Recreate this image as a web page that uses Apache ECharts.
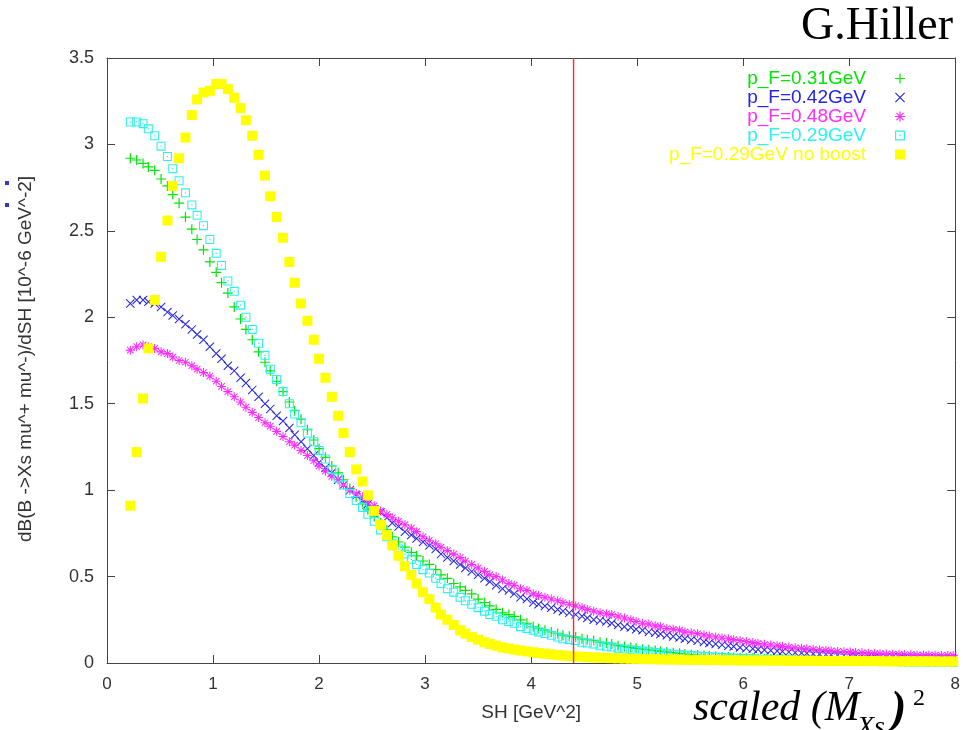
<!DOCTYPE html>
<html>
<head>
<meta charset="utf-8">
<title>dB/dSH</title>
<script src="https://cdn.jsdelivr.net/npm/echarts@6/dist/echarts.min.js"></script>
<style>
  html, body { margin: 0; padding: 0; background: #fff; }
  #chart { width: 963px; height: 730px; }
</style>
</head>
<body>
<div id="chart"></div>
<script>
// SH [GeV^2] sampling points (same for all curves)
const shValues = [
  0.22, 0.28, 0.34, 0.39, 0.45, 0.51, 0.57, 0.62,
  0.68, 0.74, 0.80, 0.85, 0.91, 0.97, 1.03, 1.08,
  1.14, 1.20, 1.26, 1.31, 1.37, 1.43, 1.49, 1.54,
  1.60, 1.66, 1.72, 1.77, 1.83, 1.89, 1.95, 2.00,
  2.06, 2.12, 2.18, 2.23, 2.29, 2.35, 2.41, 2.46,
  2.52, 2.58, 2.64, 2.69, 2.75, 2.81, 2.87, 2.92,
  2.98, 3.04, 3.10, 3.15, 3.21, 3.27, 3.33, 3.38,
  3.44, 3.50, 3.56, 3.61, 3.67, 3.73, 3.79, 3.84,
  3.90, 3.96, 4.02, 4.07, 4.13, 4.19, 4.25, 4.30,
  4.36, 4.42, 4.48, 4.53, 4.59, 4.65, 4.71, 4.76,
  4.82, 4.88, 4.94, 4.99, 5.05, 5.11, 5.17, 5.22,
  5.28, 5.34, 5.40, 5.45, 5.51, 5.57, 5.63, 5.68,
  5.74, 5.80, 5.86, 5.91, 5.97, 6.03, 6.09, 6.14,
  6.20, 6.26, 6.32, 6.37, 6.43, 6.49, 6.55, 6.60,
  6.66, 6.72, 6.78, 6.83, 6.89, 6.95, 7.01, 7.06,
  7.12, 7.18, 7.24, 7.29, 7.35, 7.41, 7.47, 7.52,
  7.58, 7.64, 7.70, 7.75, 7.81, 7.87, 7.93, 7.98
];

// p_F=0.31GeV (green +)
const pf031 = [
  2.92, 2.91, 2.89, 2.87, 2.85, 2.80, 2.76, 2.71,
  2.66, 2.58, 2.51, 2.45, 2.39, 2.32, 2.26, 2.20,
  2.14, 2.06, 1.99, 1.93, 1.87, 1.80, 1.74, 1.69,
  1.63, 1.57, 1.51, 1.46, 1.41, 1.35, 1.29, 1.24,
  1.19, 1.14, 1.10, 1.06, 1.01, 0.96, 0.92, 0.89,
  0.85, 0.81, 0.77, 0.73, 0.70, 0.67, 0.64, 0.62,
  0.59, 0.57, 0.54, 0.51, 0.49, 0.46, 0.44, 0.42,
  0.40, 0.37, 0.35, 0.33, 0.31, 0.29, 0.28, 0.27,
  0.25, 0.23, 0.21, 0.20, 0.19, 0.18, 0.17, 0.16,
  0.155, 0.15, 0.14, 0.135, 0.13, 0.12, 0.115, 0.11,
  0.10, 0.095, 0.09, 0.085, 0.08, 0.076, 0.072, 0.068,
  0.064, 0.06, 0.056, 0.052, 0.049, 0.046, 0.043, 0.041,
  0.038, 0.036, 0.034, 0.032, 0.030, 0.028, 0.027, 0.025,
  0.024, 0.023, 0.022, 0.021, 0.020, 0.019, 0.018, 0.017,
  0.016, 0.016, 0.015, 0.014, 0.014, 0.013, 0.013, 0.012,
  0.012, 0.011, 0.011, 0.010, 0.010, 0.010, 0.009, 0.009,
  0.009, 0.008, 0.008, 0.008, 0.007, 0.007, 0.007, 0.007
];

// p_F=0.42GeV (blue x)
const pf042 = [
  2.08, 2.10, 2.10, 2.09, 2.08, 2.06, 2.03, 2.01,
  1.99, 1.96, 1.93, 1.90, 1.87, 1.83, 1.79, 1.76,
  1.72, 1.69, 1.65, 1.62, 1.58, 1.54, 1.50, 1.47,
  1.43, 1.40, 1.36, 1.32, 1.28, 1.24, 1.20, 1.16,
  1.13, 1.10, 1.06, 1.03, 1.00, 0.97, 0.94, 0.92,
  0.89, 0.87, 0.84, 0.81, 0.79, 0.76, 0.74, 0.72,
  0.70, 0.68, 0.66, 0.63, 0.61, 0.59, 0.57, 0.55,
  0.53, 0.51, 0.49, 0.47, 0.45, 0.43, 0.42, 0.40,
  0.38, 0.37, 0.35, 0.34, 0.33, 0.32, 0.31, 0.30,
  0.29, 0.28, 0.27, 0.26, 0.25, 0.245, 0.24, 0.23,
  0.22, 0.21, 0.205, 0.195, 0.19, 0.18, 0.175, 0.168,
  0.16, 0.153, 0.147, 0.14, 0.134, 0.128, 0.122, 0.116,
  0.11, 0.105, 0.10, 0.095, 0.09, 0.086, 0.082, 0.078,
  0.075, 0.072, 0.069, 0.066, 0.063, 0.06, 0.058, 0.056,
  0.054, 0.052, 0.05, 0.048, 0.046, 0.044, 0.043, 0.041,
  0.040, 0.038, 0.037, 0.036, 0.035, 0.034, 0.033, 0.032,
  0.031, 0.030, 0.029, 0.028, 0.027, 0.026, 0.025, 0.024
];

// p_F=0.48GeV (magenta *)
const pf048 = [
  1.81, 1.83, 1.84, 1.83, 1.82, 1.80, 1.79, 1.77,
  1.75, 1.74, 1.72, 1.70, 1.68, 1.66, 1.63, 1.60,
  1.57, 1.54, 1.51, 1.48, 1.45, 1.42, 1.39, 1.37,
  1.34, 1.31, 1.28, 1.26, 1.23, 1.20, 1.17, 1.14,
  1.11, 1.08, 1.06, 1.03, 1.00, 0.98, 0.96, 0.93,
  0.91, 0.88, 0.86, 0.84, 0.82, 0.80, 0.78, 0.76,
  0.73, 0.71, 0.69, 0.67, 0.65, 0.63, 0.61, 0.59,
  0.57, 0.55, 0.53, 0.51, 0.50, 0.48, 0.46, 0.45,
  0.43, 0.42, 0.40, 0.39, 0.38, 0.37, 0.36, 0.35,
  0.34, 0.33, 0.32, 0.31, 0.30, 0.29, 0.285, 0.28,
  0.27, 0.26, 0.25, 0.24, 0.23, 0.225, 0.215, 0.21,
  0.20, 0.195, 0.19, 0.18, 0.175, 0.17, 0.162, 0.156,
  0.15, 0.145, 0.14, 0.135, 0.13, 0.124, 0.118, 0.113,
  0.108, 0.104, 0.10, 0.096, 0.092, 0.088, 0.085, 0.082,
  0.079, 0.076, 0.073, 0.07, 0.067, 0.065, 0.063, 0.061,
  0.059, 0.057, 0.055, 0.054, 0.052, 0.051, 0.05, 0.049,
  0.048, 0.047, 0.046, 0.045, 0.045, 0.044, 0.044, 0.043
];

// p_F=0.29GeV (cyan boxes)
const pf029 = [
  3.13, 3.13, 3.12, 3.09, 3.05, 2.99, 2.93, 2.86,
  2.79, 2.72, 2.65, 2.59, 2.53, 2.45, 2.37, 2.30,
  2.21, 2.15, 2.07, 2.00, 1.93, 1.85, 1.78, 1.70,
  1.64, 1.57, 1.50, 1.44, 1.39, 1.33, 1.28, 1.23,
  1.18, 1.12, 1.07, 1.03, 0.98, 0.94, 0.90, 0.86,
  0.82, 0.77, 0.73, 0.69, 0.66, 0.63, 0.60, 0.57,
  0.54, 0.52, 0.49, 0.46, 0.43, 0.41, 0.38, 0.36,
  0.34, 0.32, 0.30, 0.28, 0.27, 0.25, 0.24, 0.23,
  0.21, 0.20, 0.19, 0.18, 0.17, 0.16, 0.15, 0.14,
  0.135, 0.13, 0.12, 0.115, 0.11, 0.10, 0.097, 0.092,
  0.086, 0.081, 0.077, 0.073, 0.069, 0.065, 0.061, 0.058,
  0.054, 0.051, 0.048, 0.045, 0.043, 0.040, 0.038, 0.036,
  0.034, 0.032, 0.030, 0.028, 0.027, 0.025, 0.024, 0.022,
  0.021, 0.020, 0.019, 0.018, 0.017, 0.016, 0.015, 0.015,
  0.014, 0.013, 0.013, 0.012, 0.012, 0.011, 0.011, 0.010,
  0.010, 0.009, 0.009, 0.009, 0.008, 0.008, 0.008, 0.007,
  0.007, 0.007, 0.007, 0.006, 0.006, 0.006, 0.006, 0.005
];

// p_F=0.29GeV no boost (yellow filled squares)
const pf029NoBoost = [
  0.91, 1.22, 1.53, 1.82, 2.10, 2.35, 2.56, 2.76,
  2.92, 3.04, 3.17, 3.26, 3.30, 3.31, 3.35, 3.35,
  3.32, 3.27, 3.21, 3.14, 3.05, 2.94, 2.82, 2.70,
  2.58, 2.46, 2.32, 2.20, 2.08, 1.98, 1.87, 1.76,
  1.65, 1.54, 1.43, 1.33, 1.22, 1.12, 1.05, 0.97,
  0.88, 0.80, 0.74, 0.68, 0.62, 0.56, 0.51, 0.46,
  0.41, 0.37, 0.32, 0.28, 0.25, 0.22, 0.19, 0.17,
  0.15, 0.135, 0.12, 0.11, 0.10, 0.09, 0.084, 0.078,
  0.072, 0.067, 0.062, 0.058, 0.054, 0.050, 0.046, 0.043,
  0.040, 0.038, 0.036, 0.034, 0.032, 0.031, 0.030, 0.028,
  0.027, 0.026, 0.025, 0.024, 0.023, 0.022, 0.022, 0.021,
  0.020, 0.020, 0.019, 0.019, 0.018, 0.018, 0.017, 0.017,
  0.017, 0.016, 0.016, 0.016, 0.015, 0.015, 0.015, 0.015,
  0.014, 0.014, 0.014, 0.014, 0.013, 0.013, 0.013, 0.013,
  0.013, 0.012, 0.012, 0.012, 0.012, 0.012, 0.011, 0.011,
  0.011, 0.011, 0.011, 0.011, 0.010, 0.010, 0.010, 0.010,
  0.010, 0.010, 0.010, 0.010, 0.009, 0.009, 0.009, 0.009
];

const seriesNames = ['p_F=0.31GeV', 'p_F=0.42GeV', 'p_F=0.48GeV', 'p_F=0.29GeV', 'p_F=0.29GeV no boost'];
const cutSH = 4.4; // red vertical line position
const yRange = [0, 3.5];

// gnuplot-like point types
const PLUS = 'path://M0,4.4h10v1.2h-10z M4.4,0h1.2v10h-1.2z';
const CROSS = 'path://M0,0.8L0.8,0L10,9.2L9.2,10z M9.2,0L10,0.8L0.8,10L0,9.2z';
const STAR = 'path://M0,4.4h10v1.2h-10z M4.4,0h1.2v10h-1.2z M1,1.8L1.8,1L9,8.2L8.2,9z M8.2,1L9,1.8L1.8,9L1,8.2z';
const BOXDOT = 'path://M0,0h10v10h-10z M1.2,1.2V8.8H8.8V1.2z M4.3,4.3h1.4v1.4h-1.4z';

const colors = ['#00e600', '#2323e8', '#ff2cff', '#2ef0f0', '#ffff00'];
const symbols = [PLUS, CROSS, STAR, BOXDOT, 'rect'];
const sizes = [10, 9, 9, 9, 10];
const curves = [pf031, pf042, pf048, pf029, pf029NoBoost];
const cutColor = '#ff2a2a';

const chart = echarts.init(document.getElementById('chart'));

const series = curves.map((ys, k) => ({
  name: seriesNames[k],
  type: 'scatter',
  symbol: symbols[k],
  symbolSize: sizes[k],
  data: shValues.map((x, i) => [x, ys[i]]),
  itemStyle: { color: colors[k], opacity: 1 },
  emphasis: { disabled: true },
  z: 2
}));

// red cut line, drawn as its own 2-point line
series.push({
  name: 'cut',
  type: 'line',
  data: [[cutSH, yRange[0]], [cutSH, yRange[1]]],
  showSymbol: false,
  symbol: 'none',
  silent: true,
  color: cutColor,
  lineStyle: { color: cutColor, width: 1.4, type: 'solid', opacity: 1 },
  emphasis: { disabled: true },
  z: 3
});

const axisColor = '#444';
const frameAxis = {
  axisLine: { show: true, onZero: false, lineStyle: { color: axisColor, width: 1 } },
  axisTick: { show: true, inside: true, length: 8, lineStyle: { color: axisColor } },
  splitLine: { show: false }
};

const option = {
  animation: false,
  backgroundColor: '#fff',
  grid: { left: 107, right: 5, top: 58, bottom: 67 },
  xAxis: [
    Object.assign({
      type: 'value', min: 0, max: 8, interval: 1,
      axisLabel: { color: '#333', fontSize: 17, margin: 13, fontFamily: 'Liberation Sans' },
      name: 'SH [GeV^2]', nameLocation: 'middle', nameGap: 40,
      nameTextStyle: { color: '#333', fontSize: 19, fontFamily: 'Liberation Sans' }
    }, frameAxis),
    Object.assign({
      type: 'value', position: 'top', min: 0, max: 8, interval: 1,
      axisLabel: { show: false }
    }, frameAxis)
  ],
  yAxis: [
    Object.assign({
      type: 'value', min: yRange[0], max: yRange[1], interval: 0.5,
      axisLabel: { color: '#333', fontSize: 18, margin: 13, fontFamily: 'Liberation Sans' }
    }, frameAxis),
    Object.assign({
      type: 'value', position: 'right', min: yRange[0], max: yRange[1], interval: 0.5,
      axisLabel: { show: false }
    }, frameAxis)
  ],
  legend: {
    orient: 'vertical',
    right: 53,
    top: 64,
    align: 'right',
    itemWidth: 10,
    itemHeight: 10,
    itemGap: 0,
    selectedMode: false,
    textStyle: { fontSize: 19, fontFamily: 'Liberation Sans', lineHeight: 19, padding: [0, 24, 0, 0] },
    data: seriesNames.map((n, k) => ({ name: n, icon: symbols[k], textStyle: { color: colors[k] } }))
  },
  graphic: [
    {
      type: 'text', x: 953, y: 27,
      style: { text: 'G.Hiller', font: '46px "Liberation Serif"', fill: '#000', align: 'right', verticalAlign: 'middle' }
    },
    {
      type: 'text', x: 26, y: 359, rotation: Math.PI / 2,
      style: {
        text: 'dB(B ->Xs mu^+ mu^-)/dSH [10^-6 GeV^-2]',
        font: '19px "Liberation Sans"', fill: '#333', align: 'center', verticalAlign: 'middle'
      }
    },
    { type: 'rect', shape: { x: 5, y: 181, width: 4, height: 4 }, style: { fill: '#3535d0' } },
    { type: 'rect', shape: { x: 5, y: 203, width: 4, height: 4 }, style: { fill: '#3535d0' } },
    {
      type: 'text', x: 693, y: 709,
      style: { text: 'scaled (M', font: 'italic 42px "Liberation Serif"', fill: '#000', verticalAlign: 'middle' }
    },
    {
      type: 'text', x: 857, y: 728,
      style: { text: 'Xs', font: 'italic 28px "Liberation Serif"', fill: '#000', verticalAlign: 'middle' }
    },
    {
      type: 'text', x: 891, y: 711,
      style: { text: ')', font: 'italic bold 46px "Liberation Serif"', fill: '#000', verticalAlign: 'middle' }
    },
    {
      type: 'text', x: 913, y: 699,
      style: { text: '2', font: '24px "Liberation Serif"', fill: '#000', verticalAlign: 'middle' }
    }
  ],
  series: series
};

chart.setOption(option);
</script>
</body>
</html>
